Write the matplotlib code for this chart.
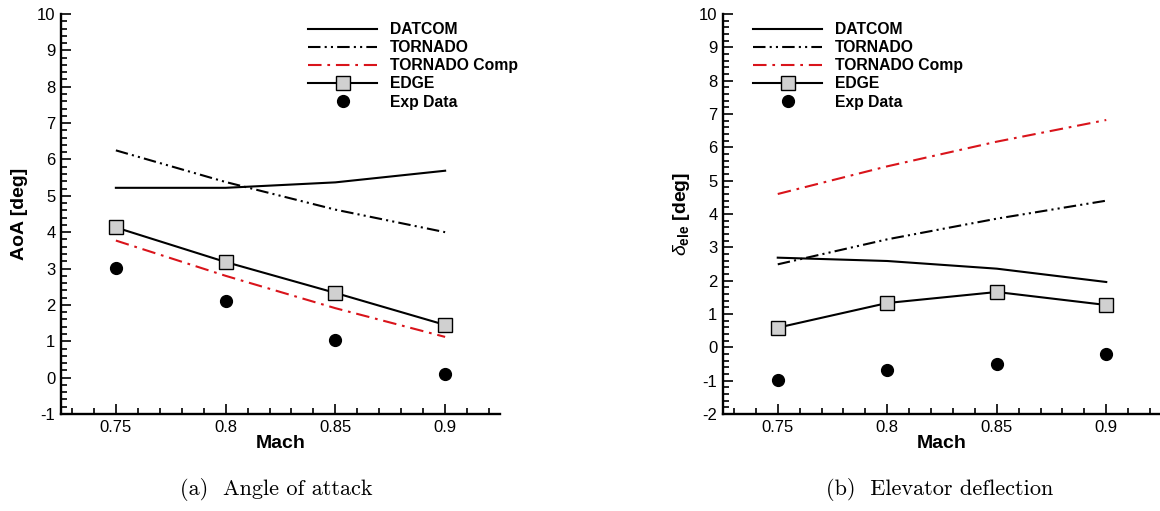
import matplotlib
matplotlib.use("Agg")
import matplotlib.pyplot as plt
from matplotlib.ticker import MultipleLocator, FixedLocator

plt.rcParams['font.family'] = ['Liberation Sans', 'DejaVu Sans']
plt.rcParams['mathtext.fontset'] = 'custom'
plt.rcParams['mathtext.rm'] = 'Liberation Sans'
plt.rcParams['mathtext.bf'] = 'Liberation Sans:bold'
plt.rcParams['mathtext.it'] = 'Liberation Sans:italic'
plt.rcParams['axes.unicode_minus'] = False

mach = [0.75, 0.80, 0.85, 0.90]
mach_ticks = [0.75, 0.8, 0.85, 0.9]
mach_tick_labels = ["0.75", "0.8", "0.85", "0.9"]

# Trim angle of attack [deg]
aoa_datcom = [5.22, 5.22, 5.37, 5.69]
aoa_tornado = [6.25, 5.38, 4.62, 4.00]
aoa_tornado_comp = [3.77, 2.80, 1.91, 1.12]
aoa_edge = [4.13, 3.18, 2.33, 1.45]
aoa_exp = [3.02, 2.10, 1.03, 0.11]

# Trim elevator deflection [deg]
ele_datcom = [2.69, 2.59, 2.36, 1.96]
ele_tornado = [2.49, 3.24, 3.86, 4.40]
ele_tornado_comp = [4.60, 5.43, 6.17, 6.82]
ele_edge = [0.59, 1.33, 1.66, 1.27]
ele_exp = [-0.99, -0.68, -0.49, -0.20]

labels = ["DATCOM", "TORNADO", "TORNADO Comp", "EDGE", "Exp Data"]

fig = plt.figure(figsize=(11.60, 5.11), dpi=100)
W, H = 1160.0, 511.0
ax1 = fig.add_axes([61 / W, (H - 414) / H, 439 / W, 400 / H])
ax2 = fig.add_axes([723 / W, (H - 414) / H, 438 / W, 400 / H])

lw = 1.5
red = '#d9141b'
tornado_ls = (0, (6, 2, 1, 2, 1, 2))
comp_ls = (0, (6.5, 2.8, 1.3, 2.8))


def draw(ax, datcom, tornado, comp, edge, exp, ylim, ylabel, legend_x, ylabel_x):
    ax.plot(mach, datcom, color='black', lw=lw, label=labels[0])
    ax.plot(mach, tornado, color='black', lw=lw, ls=tornado_ls, label=labels[1])
    ax.plot(mach, comp, color=red, lw=lw, ls=comp_ls, label=labels[2])
    ax.plot(mach, edge, color='black', lw=lw, marker='s', ms=9.5,
            mfc='#d0d0d0', mec='black', mew=1.0, label=labels[3])
    ax.plot(mach, exp, ls='none', marker='o', ms=8.5, color='black', label=labels[4])

    ax.set_xlim(0.725, 0.925)
    ax.set_ylim(*ylim)
    ax.xaxis.set_major_locator(FixedLocator(mach_ticks))
    ax.set_xticklabels(mach_tick_labels)
    ax.xaxis.set_minor_locator(MultipleLocator(0.01))
    ax.yaxis.set_major_locator(MultipleLocator(1))
    ax.yaxis.set_minor_locator(MultipleLocator(0.2))

    for s in ('top', 'right'):
        ax.spines[s].set_visible(False)
    for s in ('left', 'bottom'):
        ax.spines[s].set_linewidth(1.7)
    ax.tick_params(which='both', direction='in', top=False, right=False,
                   labelsize=12, width=1.2, colors='black')
    ax.tick_params(which='major', length=7.5, pad=4)
    ax.tick_params(which='minor', length=4.3)

    ax.set_xlabel("Mach", fontsize=14, fontweight='bold', labelpad=0)
    ax.set_ylabel(ylabel, fontsize=14, fontweight='bold')
    ax.yaxis.set_label_coords(ylabel_x, 0.5)

    ax.legend(loc='upper left', bbox_to_anchor=(legend_x, 0.98), frameon=False,
              prop={'weight': 'bold', 'size': 11.3}, handlelength=4.4,
              handletextpad=0.8, labelspacing=0.2, borderpad=0, borderaxespad=0)


draw(ax1, aoa_datcom, aoa_tornado, aoa_tornado_comp, aoa_edge, aoa_exp,
     (-1, 10), "AoA [deg]", 0.5626, -0.075)
draw(ax2, ele_datcom, ele_tornado, ele_tornado_comp, ele_edge, ele_exp,
     (-2, 10), r"$\delta_{\mathbf{ele}}$ [deg]", 0.0685, -0.07)

fig.text(276 / W, 1 - 489 / H, "(a)  Angle of attack", family='cmr10',
         fontsize=16, ha='center', va='center')
fig.text(940 / W, 1 - 489 / H, "(b)  Elevator deflection", family='cmr10',
         fontsize=16, ha='center', va='center')

fig.savefig("out.png", dpi=100)
